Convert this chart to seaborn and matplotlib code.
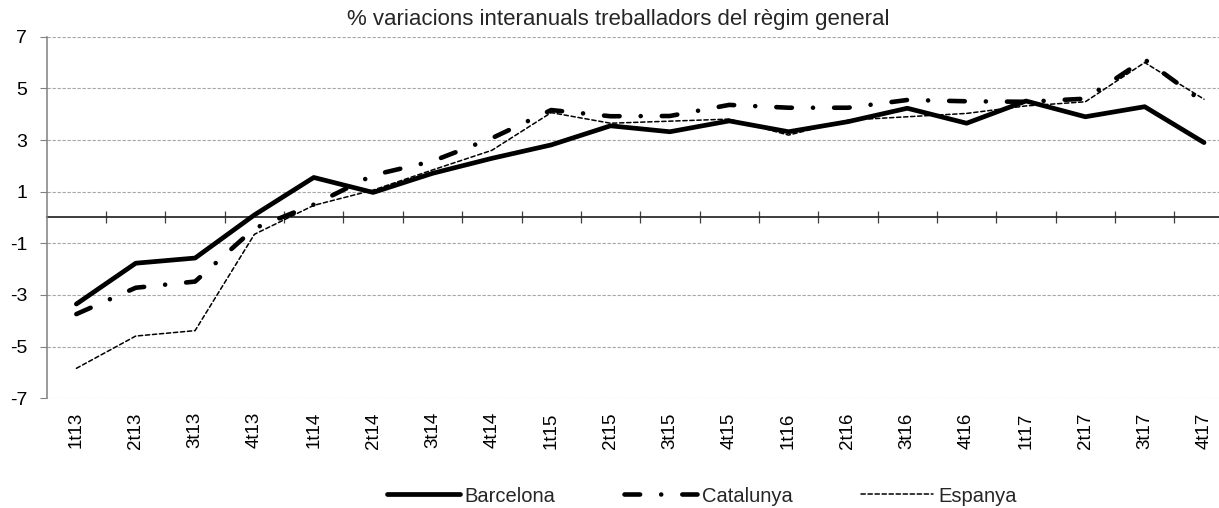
import numpy as np
import pandas as pd
import seaborn as sns
import matplotlib.pyplot as plt

quarters = ["1t13", "2t13", "3t13", "4t13", "1t14", "2t14", "3t14", "4t14",
            "1t15", "2t15", "3t15", "4t15", "1t16", "2t16", "3t16", "4t16",
            "1t17", "2t17", "3t17", "4t17"]
barcelona = [-3.35, -1.77, -1.57, 0.10, 1.55, 0.97, 1.71, 2.29, 2.81, 3.55,
             3.32, 3.74, 3.32, 3.71, 4.23, 3.65, 4.51, 3.90, 4.29, 2.90]
catalunya = [-3.74, -2.72, -2.48, -0.42, 0.50, 1.64, 2.18, 3.07, 4.16, 3.92,
             3.93, 4.36, 4.25, 4.25, 4.55, 4.50, 4.48, 4.60, 6.12, 4.45]
espanya = [-5.84, -4.59, -4.38, -0.65, 0.47, 1.06, 1.84, 2.60, 4.06, 3.65,
           3.73, 3.81, 3.19, 3.77, 3.90, 4.03, 4.32, 4.48, 6.00, 4.58]
series = ["Barcelona", "Catalunya", "Espanya"]
title = "% variacions interanuals treballadors del règim general"

df = pd.DataFrame({
    "pos": np.tile(np.arange(len(quarters)), 3),
    "valor": barcelona + catalunya + espanya,
    "serie": np.repeat(series, len(quarters)),
})

sns.set_theme(style="white")
plt.rcParams["font.family"] = ["Liberation Sans", "DejaVu Sans"]
plt.rcParams["axes.unicode_minus"] = False

W, H = 1219, 508
fig = plt.figure(figsize=(W / 100, H / 100), dpi=100)
ax = fig.add_axes([46.7 / W, 1 - 398.3 / H, 1187 / W, 361.6 / H])

sns.lineplot(data=df, x="pos", y="valor", hue="serie", style="serie", size="serie",
             palette={"Barcelona": "black", "Catalunya": "black", "Espanya": "black"},
             dashes={"Barcelona": "", "Catalunya": (3.4, 4.6, 0.01, 4.6), "Espanya": (2.8, 1.8)},
             sizes={"Barcelona": 3.4, "Catalunya": 3.3, "Espanya": 1.1},
             ax=ax, legend=False)

for line in ax.lines:
    line.set_dash_capstyle("round")
    line.set_solid_capstyle("round")

ax.set_xlim(-0.5, len(quarters) - 0.5)
ax.set_ylim(-7, 7)
ax.set_yticks(np.arange(-7, 8, 2))
ax.set_xticks(np.arange(len(quarters)), labels=quarters, rotation=90)
ax.set_xlabel("")
ax.set_ylabel("")
ax.grid(axis="y", linestyle=(0, (3, 1.5)), color="#a6a6a6", linewidth=0.8)
ax.grid(axis="x", visible=False)
ax.set_axisbelow(True)

for s in ["top", "right", "bottom"]:
    ax.spines[s].set_visible(False)
ax.spines["left"].set_color("#808080")
ax.spines["left"].set_linewidth(1.1)

ax.tick_params(axis="x", length=0, pad=10, labelsize=13.5, colors="black")
ax.tick_params(axis="y", length=5, width=0.8, color="#808080", pad=9,
               labelsize=14, labelcolor="black", left=True)

# horizontal axis crossing at zero, with ticks between categories
sec = ax.secondary_xaxis(0.5)
sec.set_xticks(np.arange(0.5, len(quarters) - 1, 1), labels=[])
sec.spines["bottom"].set_color("#595959")
sec.spines["bottom"].set_linewidth(1.1)
sec.tick_params(axis="x", bottom=True, direction="out", length=4.5, width=0.9, color="#404040")

fig.text(618 / W, 1 - 20 / H, title, ha="center", va="center", fontsize=16)

fig.legend(ax.lines[:3], series, loc="center", bbox_to_anchor=(702 / W, 1 - 496 / H),
           ncol=3, frameon=False, fontsize=14.5, handlelength=3.6,
           handletextpad=0.25, columnspacing=3.4)

plt.savefig("out.png", dpi=100)
